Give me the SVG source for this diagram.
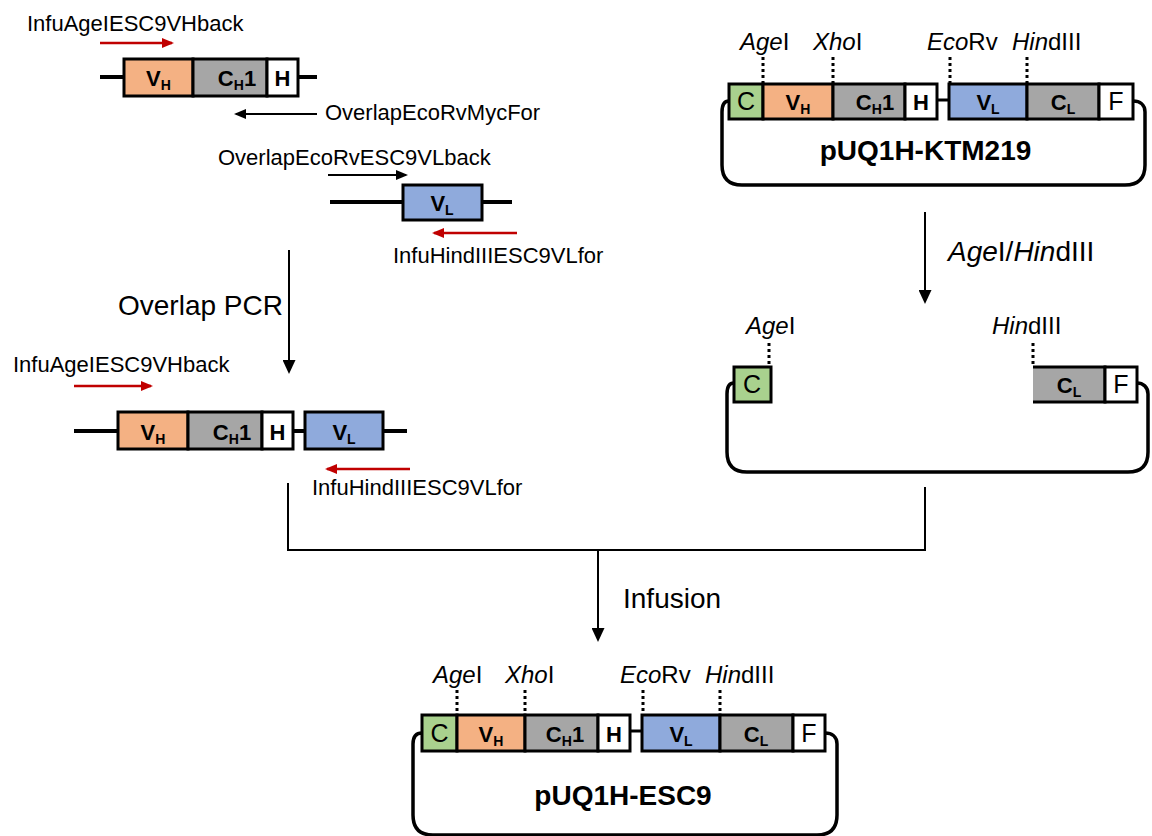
<svg xmlns="http://www.w3.org/2000/svg" width="1152" height="836" viewBox="0 0 1152 836">
<style>
text{font-family:"Liberation Sans",Arial,Helvetica,sans-serif;fill:#000}
.pr{font-size:22px}
.big{font-size:28px}
.re{font-size:24px}
.lb{font-size:22px;font-weight:bold;text-anchor:middle}
.lr{font-size:25px;text-anchor:middle}
.nm{font-size:28px;font-weight:bold;text-anchor:middle}
.sub{font-size:14px}
.bx{stroke:#000;stroke-width:3}
.vh{fill:#F4B183}.ch{fill:#A6A6A6}.vl{fill:#8FAADC}.cc{fill:#A9D18E}.wh{fill:#fff}
.dna{stroke:#000;stroke-width:4;fill:none}
.ol{stroke:#000;stroke-width:3.5;fill:none}
.dot{stroke:#000;stroke-width:3;stroke-dasharray:3 3;fill:none}
.ab{stroke:#000;stroke-width:2;fill:none;marker-end:url(#mb)}
.ar{stroke:#C00000;stroke-width:2.5;fill:none;marker-end:url(#mr)}
.ak{stroke:#000;stroke-width:2;fill:none;marker-end:url(#mk)}
.ln{stroke:#000;stroke-width:2;fill:none}
</style>
<defs>
<marker id="mb" markerUnits="userSpaceOnUse" markerWidth="12" markerHeight="10" refX="10" refY="5" orient="auto"><path d="M0,0 L12,5 L0,10 z" fill="#000"/></marker>
<marker id="mr" markerUnits="userSpaceOnUse" markerWidth="12" markerHeight="10" refX="10" refY="5" orient="auto"><path d="M0,0 L12,5 L0,10 z" fill="#C00000"/></marker>
<marker id="mk" markerUnits="userSpaceOnUse" markerWidth="14" markerHeight="13" refX="12" refY="6.5" orient="auto"><path d="M0,0 L14,6.5 L0,13 z" fill="#000"/></marker>
</defs>

<g id="connectors">
<line class="ak" x1="289" y1="250" x2="289" y2="372"/>
<line class="ak" x1="925" y1="212" x2="925" y2="302"/>
<polyline class="ln" points="288,483 288,550 925,550 925,487"/>
<line class="ak" x1="598" y1="550" x2="598" y2="640"/>
<text class="big" x="118" y="315">Overlap PCR</text>
<text class="big" x="948" y="261"><tspan font-style="italic">Age</tspan>I/<tspan font-style="italic">Hin</tspan>dIII</text>
<text class="big" x="623" y="608">Infusion</text>
</g>

<g id="pcr-vh">
<text class="pr" x="27" y="31">InfuAgeIESC9VHback</text>
<line class="ar" x1="100" y1="43" x2="172" y2="43"/>
<line class="dna" x1="100" y1="77" x2="317" y2="77"/>
<rect class="bx vh" x="124" y="59" width="69" height="37"/>
<rect class="bx ch" x="193" y="59" width="74" height="37"/>
<rect class="bx wh" x="267" y="59" width="31" height="37"/>
<text class="lb" x="158.5" y="86">V<tspan class="sub" dy="4">H</tspan></text>
<text class="lb" x="237" y="86">C<tspan class="sub" dy="4">H</tspan><tspan dy="-4">1</tspan></text>
<text class="lb" x="282.5" y="86">H</text>
<line class="ab" x1="317" y1="114" x2="236" y2="114"/>
<text class="pr" x="325" y="120">OverlapEcoRvMycFor</text>
</g>

<g id="pcr-vl">
<text class="pr" x="218" y="165">OverlapEcoRvESC9VLback</text>
<line class="ab" x1="328" y1="175" x2="406" y2="175"/>
<line class="dna" x1="330" y1="202" x2="512" y2="202"/>
<rect class="bx vl" x="403" y="185" width="79" height="35"/>
<text class="lb" x="442" y="211">V<tspan class="sub" dy="4">L</tspan></text>
<line class="ar" x1="517" y1="233" x2="434" y2="233"/>
<text class="pr" x="393" y="263">InfuHindIIIESC9VLfor</text>
</g>

<g id="pcr-product">
<text class="pr" x="13" y="372">InfuAgeIESC9VHback</text>
<line class="ar" x1="74" y1="386" x2="151" y2="386"/>
<line class="dna" x1="74" y1="431" x2="407" y2="431"/>
<rect class="bx vh" x="118" y="412" width="70" height="37"/>
<rect class="bx ch" x="188" y="412" width="74" height="37"/>
<rect class="bx wh" x="262" y="412" width="31" height="37"/>
<rect class="bx vl" x="305" y="412" width="78" height="37"/>
<text class="lb" x="153" y="440">V<tspan class="sub" dy="4">H</tspan></text>
<text class="lb" x="232" y="440">C<tspan class="sub" dy="4">H</tspan><tspan dy="-4">1</tspan></text>
<text class="lb" x="277.5" y="440">H</text>
<text class="lb" x="344" y="440">V<tspan class="sub" dy="4">L</tspan></text>
<line class="ar" x1="410" y1="469" x2="327" y2="469"/>
<text class="pr" x="312" y="495">InfuHindIIIESC9VLfor</text>
</g>

<g id="plasmid-ktm219">
<text class="re" x="740" y="50"><tspan font-style="italic">Age</tspan>I</text>
<text class="re" x="813" y="50"><tspan font-style="italic">Xho</tspan>I</text>
<text class="re" x="927" y="50"><tspan font-style="italic">Eco</tspan>Rv</text>
<text class="re" x="1012" y="50"><tspan font-style="italic">Hin</tspan>dIII</text>
<line class="dot" x1="763" y1="57" x2="763" y2="83"/>
<line class="dot" x1="833" y1="57" x2="833" y2="83"/>
<line class="dot" x1="950" y1="57" x2="950" y2="83"/>
<line class="dot" x1="1027" y1="57" x2="1027" y2="83"/>
<path class="ol" d="M729,101 C724,101 722,105 722,112 L722,165 Q722,185 742,185 L1125,185 Q1145,185 1145,165 L1145,112 C1145,105 1140,101 1133,101"/>
<line class="bx" x1="937" y1="100" x2="949" y2="100"/>
<rect class="bx cc" x="729" y="84" width="34" height="35"/>
<rect class="bx vh" x="763" y="84" width="70" height="35"/>
<rect class="bx ch" x="833" y="84" width="72" height="35"/>
<rect class="bx wh" x="905" y="84" width="32" height="35"/>
<rect class="bx vl" x="949" y="84" width="78" height="35"/>
<rect class="bx ch" x="1027" y="84" width="72" height="35"/>
<rect class="bx wh" x="1099" y="84" width="34" height="35"/>
<text class="lr" x="746" y="110">C</text>
<text class="lb" x="798" y="110">V<tspan class="sub" dy="4">H</tspan></text>
<text class="lb" x="875" y="110">C<tspan class="sub" dy="4">H</tspan><tspan dy="-4">1</tspan></text>
<text class="lb" x="921" y="110">H</text>
<text class="lb" x="988" y="110">V<tspan class="sub" dy="4">L</tspan></text>
<text class="lb" x="1063" y="110">C<tspan class="sub" dy="4">L</tspan></text>
<text class="lr" x="1116" y="110">F</text>
<text class="nm" x="925.5" y="160">pUQ1H-KTM219</text>
</g>

<g id="plasmid-cut">
<text class="re" x="746" y="334"><tspan font-style="italic">Age</tspan>I</text>
<text class="re" x="992" y="334"><tspan font-style="italic">Hin</tspan>dIII</text>
<line class="dot" x1="769" y1="343" x2="769" y2="366"/>
<line class="dot" x1="1033" y1="343" x2="1033" y2="366"/>
<path class="ol" d="M734,383 C729,383 727,387 727,394 L727,452 Q727,472 747,472 L1128,472 Q1148,472 1148,452 L1148,394 C1148,387 1143,383 1137,383"/>
<rect class="bx cc" x="734" y="367" width="37" height="35"/>
<rect class="ch" x="1033" y="367" width="72" height="35"/>
<polyline class="bx" fill="none" points="1033,367 1105,367 1105,402 1033,402"/>
<rect class="bx wh" x="1105" y="367" width="32" height="35"/>
<text class="lr" x="752" y="393">C</text>
<text class="lb" x="1069" y="393">C<tspan class="sub" dy="4">L</tspan></text>
<text class="lr" x="1121" y="393">F</text>
</g>

<g id="plasmid-esc9">
<text class="re" x="433" y="683"><tspan font-style="italic">Age</tspan>I</text>
<text class="re" x="505" y="683"><tspan font-style="italic">Xho</tspan>I</text>
<text class="re" x="620" y="683"><tspan font-style="italic">Eco</tspan>Rv</text>
<text class="re" x="705" y="683"><tspan font-style="italic">Hin</tspan>dIII</text>
<line class="dot" x1="457" y1="690" x2="457" y2="714"/>
<line class="dot" x1="525" y1="690" x2="525" y2="714"/>
<line class="dot" x1="643" y1="690" x2="643" y2="714"/>
<line class="dot" x1="720" y1="690" x2="720" y2="714"/>
<path class="ol" d="M422,733 C416,733 413,737 413,744 L413,815 Q413,835 433,835 L817,835 Q837,835 837,815 L837,744 C837,737 832,733 825,733"/>
<line class="bx" x1="630" y1="731" x2="642" y2="731"/>
<rect class="bx cc" x="422" y="715" width="35" height="36"/>
<rect class="bx vh" x="457" y="715" width="68" height="36"/>
<rect class="bx ch" x="525" y="715" width="73" height="36"/>
<rect class="bx wh" x="598" y="715" width="32" height="36"/>
<rect class="bx vl" x="642" y="715" width="78" height="36"/>
<rect class="bx ch" x="720" y="715" width="73" height="36"/>
<rect class="bx wh" x="793" y="715" width="32" height="36"/>
<text class="lr" x="439.5" y="742">C</text>
<text class="lb" x="491" y="742">V<tspan class="sub" dy="4">H</tspan></text>
<text class="lb" x="565" y="742">C<tspan class="sub" dy="4">H</tspan><tspan dy="-4">1</tspan></text>
<text class="lb" x="614" y="742">H</text>
<text class="lb" x="681" y="742">V<tspan class="sub" dy="4">L</tspan></text>
<text class="lb" x="756" y="742">C<tspan class="sub" dy="4">L</tspan></text>
<text class="lr" x="809" y="742">F</text>
<text class="nm" x="623" y="805">pUQ1H-ESC9</text>
</g>
</svg>
